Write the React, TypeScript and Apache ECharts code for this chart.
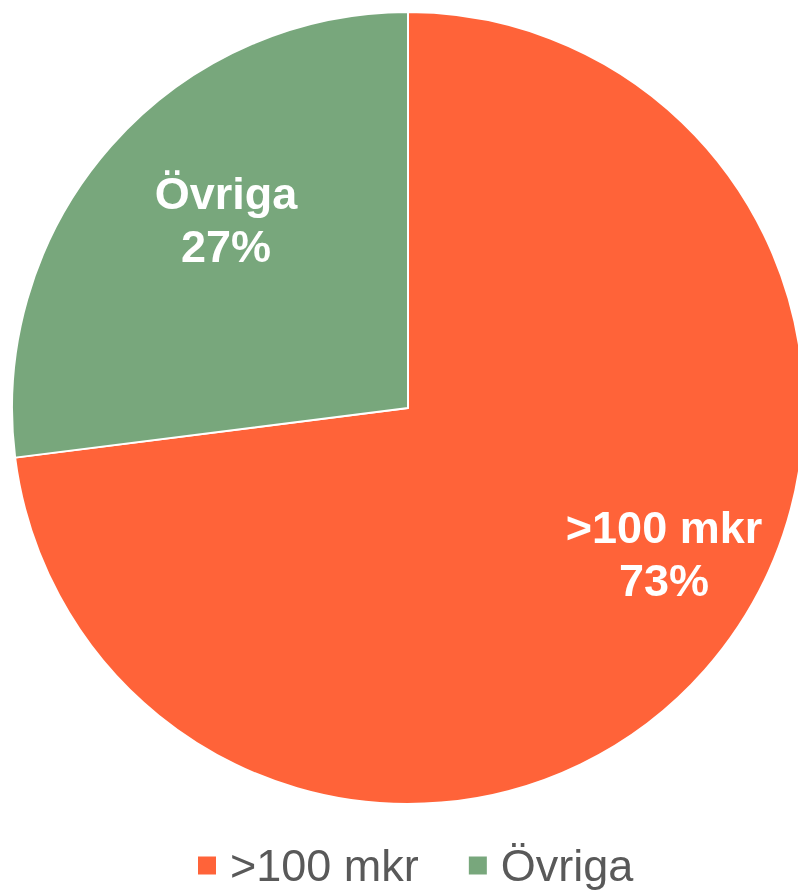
import React, { useEffect, useRef } from "react";
import * as echarts from "echarts";

const categories = [">100 mkr", "Övriga"];
const values = [73, 27];
const colors = ["#FF6339", "#78A77C"];

export default function App() {
  const ref = useRef<HTMLDivElement>(null);
  useEffect(() => {
    if (!ref.current) return;
    const chart = echarts.init(ref.current, undefined, { renderer: "svg" });
    const labelPos: Record<number, [number, number]> = { 0: [664, 554], 1: [226, 220] };
    chart.setOption({
      animation: false,
      color: colors,
      legend: {
        data: categories,
        top: 843,
        left: 196,
        padding: 0,
        itemWidth: 20,
        itemHeight: 20,
        itemGap: 48,
        icon: "rect",
        textStyle: {
          fontSize: 45,
          lineHeight: 45,
          color: "#595959",
          padding: [0, 0, 0, 8],
          fontFamily: "Liberation Sans, Arial, sans-serif",
        },
      },
      series: [
        {
          type: "pie",
          center: [408, 408],
          radius: [0, 396],
          startAngle: 90,
          clockwise: true,
          itemStyle: { borderColor: "#ffffff", borderWidth: 2 },
          label: {
            show: true,
            position: "inside",
            formatter: (p: any) => `${p.name}\n${p.value}%`,
            color: "#ffffff",
            fontSize: 45,
            fontWeight: "bold",
            lineHeight: 53,
            fontFamily: "Liberation Sans, Arial, sans-serif",
          },
          labelLayout: (params: any) => {
            const pos = labelPos[params.dataIndex];
            return { x: pos[0], y: pos[1], align: "center", verticalAlign: "middle" };
          },
          emphasis: { disabled: true },
          data: categories.map((c, i) => ({ name: c, value: values[i] })),
        },
      ],
    });
    return () => chart.dispose();
  }, []);
  return <div ref={ref} style={{ position: "fixed", left: 0, top: 0, width: 798, height: 890 }} />;
}
